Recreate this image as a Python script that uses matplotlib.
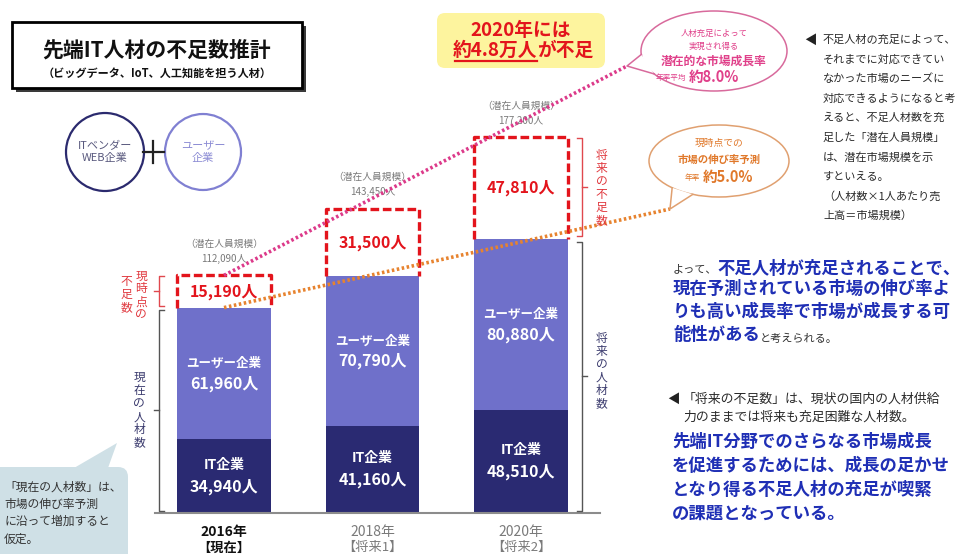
import numpy as np
import matplotlib.pyplot as plt
from matplotlib.patches import Rectangle, Circle, Ellipse, Polygon, FancyBboxPatch

plt.rcParams['font.family'] = ['Noto Sans CJK JP', 'DejaVu Sans']

# data: persons per segment
years = ["2016年", "2018年", "2020年"]
periods = ["【現在】", "【将来1】", "【将来2】"]
it_staff = [34940, 41160, 48510]
user_staff = [61960, 70790, 80880]
shortage = [15190, 31500, 47810]
potential = [112090, 143450, 177200]
rate_potential = "約8.0%"
rate_forecast = "約5.0%"

IT_C = '#2a2a72'
USER_C = '#6f70ca'
RED = '#e3141c'
PINK = '#dc3a8a'
ORANGE = '#e7832f'
BLUE = '#1f2fb5'
NAVY_TXT = '#3b3b6e'
GRAY_TXT = '#7a7a7a'

W, H = 962, 554
BASE = 513          # baseline in px from top
YTOP = 242000
X0, XW = 130, 490
XLIM = (-0.633, 2.667)

fig = plt.figure(figsize=(W / 100, H / 100), dpi=100)
ax = fig.add_axes([X0 / W, (H - BASE) / H, XW / W, BASE / H])
ax.set_xlim(*XLIM)
ax.set_ylim(0, YTOP)
ax.axis('off')

# overlay in pixel coords for the infographic parts
ov = fig.add_axes([0, 0, 1, 1], zorder=5)
ov.set_xlim(0, W)
ov.set_ylim(H, 0)
ov.axis('off')


def to_px(xd, yd):
    return (X0 + (xd - XLIM[0]) / (XLIM[1] - XLIM[0]) * XW,
            BASE - yd / YTOP * BASE)


def to_data(px, py):
    return (XLIM[0] + (px - X0) / XW * (XLIM[1] - XLIM[0]),
            (BASE - py) / BASE * YTOP)


# ---- bars ----
x = np.arange(len(years))
bw = 0.63
it = np.array(it_staff)
us = np.array(user_staff)
sh = np.array(shortage)
pot = np.array(potential)
cur = it + us

ax.bar(x, it, bw, color=IT_C, zorder=2)
ax.bar(x, us, bw, bottom=it, color=USER_C, zorder=2)
for i in x:
    xs = [i - bw / 2, i - bw / 2, i + bw / 2, i + bw / 2]
    ys = [cur[i], cur[i] + sh[i], cur[i] + sh[i], cur[i]]
    ax.plot(xs, ys, color=RED, lw=2.4, ls=(0, (2.6, 1.1)), zorder=4)

ax.axhline(0, xmin=0.05, xmax=0.96, color='#8c8c8c', lw=1.5, clip_on=False, zorder=3)

for i in x:
    ax.annotate("IT企業", (i, it[i] / 2), xytext=(0, 8), textcoords='offset points',
                ha='center', va='center', color='white', fontsize=10, fontweight='bold')
    ax.annotate(f"{it[i]:,}人", (i, it[i] / 2), xytext=(0, -7.5), textcoords='offset points',
                ha='center', va='center', color='white', fontsize=11.5, fontweight='bold')
    ax.annotate("ユーザー企業", (i, it[i] + us[i] / 2), xytext=(0, 7), textcoords='offset points',
                ha='center', va='center', color='white', fontsize=9, fontweight='bold')
    ax.annotate(f"{us[i]:,}人", (i, it[i] + us[i] / 2), xytext=(0, -7.5), textcoords='offset points',
                ha='center', va='center', color='white', fontsize=11.5, fontweight='bold')
    ax.text(i, cur[i] + sh[i] / 2, f"{sh[i]:,}人", ha='center', va='center',
            color=RED, fontsize=11.5, fontweight='bold', zorder=5)
    ax.annotate("（潜在人員規模）", (i, pot[i]), xytext=(0, 23), textcoords='offset points',
                ha='center', va='center', color=GRAY_TXT, fontsize=7)
    ax.annotate(f"{pot[i]:,}人", (i, pot[i]), xytext=(0, 12), textcoords='offset points',
                ha='center', va='center', color=GRAY_TXT, fontsize=7)
    first = i == 0
    ax.annotate(years[i], (i, 0), xytext=(0, -13.5), textcoords='offset points',
                ha='center', va='center', fontsize=10,
                color='#111111' if first else GRAY_TXT,
                fontweight='bold' if first else 'normal', annotation_clip=False)
    ax.annotate(periods[i], (i, 0), xytext=(0, -25), textcoords='offset points',
                ha='center', va='center', fontsize=9.5,
                color='#111111' if first else GRAY_TXT,
                fontweight='bold' if first else 'normal', annotation_clip=False)

# growth-rate dotted lines
ex, ey = to_data(627, 66)
ax.plot([0, ex], [pot[0], ey], color=PINK, lw=2.6, ls=(0, (0.7, 0.7)),
        clip_on=False, zorder=6)
ex, ey = to_data(670, 209)
ax.plot([0, ex], [cur[0], ey], color=ORANGE, lw=2.6, ls=(0, (0.7, 0.7)),
        clip_on=False, zorder=6)


# ---- brackets ----
def bracket(xp, y0, y1, hook, color):
    ov.plot([xp + hook, xp, xp, xp + hook], [y0, y0, y1, y1], color=color, lw=1.0)
    ym = (y0 + y1) / 2
    ov.plot([xp, xp - hook], [ym, ym], color=color, lw=1.0)


def vtext(xp, yc, s, color, size=8.5):
    ov.text(xp, yc, "\n".join(s), ha='center', va='center', color=color,
            fontsize=size, linespacing=1.0)


lx = to_px(0 - bw / 2, 0)[0] - 18
rx = to_px(2 + bw / 2, 0)[0] + 14
_, yp0 = to_px(0, pot[0])
_, yc0 = to_px(0, cur[0])
_, yp2 = to_px(2, pot[2])
_, yc2 = to_px(2, cur[2])

bracket(lx, yp0 + 1, yc0 - 2, 5, '#e0484e')
bracket(lx, yc0 + 2, BASE - 2, 5, '#555555')
bracket(rx, yp2 + 1, yc2 - 3, -5, '#e0484e')
bracket(rx, yc2 + 3, BASE - 2, -5, '#555555')

vtext(lx - 18, (yp0 + yc0) / 2 + 4, "現時点の", '#e0383e', 8.5)
vtext(lx - 33, (yp0 + yc0) / 2 + 3, "不足数", '#e0383e', 8.5)
vtext(lx - 20, (yc0 + BASE) / 2, "現在の人材数", NAVY_TXT, 8.5)
vtext(rx + 20, (yp2 + yc2) / 2, "将来の不足数", '#e0383e', 8.5)
vtext(rx + 20, (yc2 + BASE) / 2 - 5, "将来の人材数", NAVY_TXT, 8.5)

# ---- title box ----
ov.add_patch(Rectangle((16, 26), 290, 66, fc='#3a3a3a', ec='none'))
ov.add_patch(Rectangle((12, 22), 290, 66, fc='white', ec='black', lw=2))
ov.text(157, 50, "先端IT人材の不足数推計", ha='center', va='center',
        fontsize=15, fontweight='bold', color='#111111')
ov.text(157, 73, "（ビッグデータ、IoT、人工知能を担う人材）", ha='center', va='center',
        fontsize=8, fontweight='bold', color='#111111')

# circles
ov.add_patch(Circle((105, 152), 39, fc='white', ec='#2b2a6e', lw=1.6))
ov.add_patch(Circle((203, 152), 38, fc='white', ec='#8080d2', lw=1.6))
ov.text(105, 152, "ITベンダー\nWEB企業", ha='center', va='center', fontsize=8,
        color='#5a5a7e', linespacing=1.3)
ov.text(203, 152, "ユーザー\n企業", ha='center', va='center', fontsize=8,
        color='#8c8cd4', linespacing=1.3)
ov.plot([143, 164], [152, 152], color='#222222', lw=1.6)
ov.plot([153.5, 153.5], [141, 163], color='#222222', lw=1.6)

# yellow headline
ov.add_patch(FancyBboxPatch((437, 13), 168, 55, boxstyle='round,pad=0,rounding_size=8',
                            fc='#fdf49e', ec='none'))
ov.text(521, 31, "2020年には", ha='center', va='center', fontsize=13.5,
        fontweight='bold', color=RED)
ov.text(537, 50, "約4.8万人", ha='right', va='center', fontsize=13.5,
        fontweight='bold', color=RED)
ov.text(537, 50, "が不足", ha='left', va='center', fontsize=13.5,
        fontweight='bold', color=RED)
ov.plot([455, 537], [61, 61], color=RED, lw=1.6)


# speech bubbles
def bubble(cx, cy, w, h, angles, tip, color):
    ov.add_patch(Ellipse((cx, cy), w, h, fc='white', ec=color, lw=1.1, zorder=2))
    pts = [(cx + w / 2 * np.cos(np.radians(a)), cy + h / 2 * np.sin(np.radians(a)))
           for a in angles]
    ov.add_patch(Polygon([pts[0], tip, pts[1]], closed=True, fc='white', ec='none', zorder=3))
    ov.plot([pts[0][0], tip[0], pts[1][0]], [pts[0][1], tip[1], pts[1][1]],
            color=color, lw=1.1, zorder=4)


bubble(714, 51, 146, 80, (175, 145), (627, 66), '#d86a9c')
ov.text(714, 33, "人材充足によって", ha='center', va='center', fontsize=6, color='#e0408a', zorder=5)
ov.text(714, 46, "実現され得る", ha='center', va='center', fontsize=6, color='#e0408a', zorder=5)
ov.text(714, 61, "潜在的な市場成長率", ha='center', va='center', fontsize=8.5,
        fontweight='bold', color='#e0408a', zorder=5)
ov.text(686, 78, "年率平均", ha='right', va='center', fontsize=5.5, color='#e0408a', zorder=5)
ov.text(689, 77, rate_potential, ha='left', va='center', fontsize=10.5,
        fontweight='bold', color='#e0408a', zorder=5)

bubble(719, 161, 140, 72, (112, 132), (670, 209), '#e0a070')
ov.text(719, 143, "現時点での", ha='center', va='center', fontsize=7, color='#e0782a', zorder=5)
ov.text(719, 160, "市場の伸び率予測", ha='center', va='center', fontsize=7.5,
        fontweight='bold', color='#e0782a', zorder=5)
ov.text(700, 178, "年率", ha='right', va='center', fontsize=5.5, color='#e0782a', zorder=5)
ov.text(703, 177, rate_forecast, ha='left', va='center', fontsize=10.5,
        fontweight='bold', color='#e0782a', zorder=5)

# ---- right-hand notes ----
note1 = ["不足人材の充足によって、", "それまでに対応できてい", "なかった市場のニーズに",
         "対応できるようになると考", "えると、不足人材数を充", "足した「潜在人員規模」",
         "は、潜在市場規模を示", "すといえる。", "（人材数×1人あたり売",
         "上高＝市場規模）"]
ov.text(810, 40, "◀", ha='center', va='center', fontsize=9, color='#222222')
for k, s in enumerate(note1):
    ov.text(823, 40 + k * 19.5, s, ha='left', va='center', fontsize=8, color='#2a2a2a')

t1 = ov.text(673, 272, "よって、", ha='left', va='baseline', fontsize=8, color='#333333')
ov.annotate("不足人材が充足されることで、", xy=(1, 0), xycoords=t1, ha='left', va='baseline',
            fontsize=12.5, fontweight='bold', color=BLUE)
ov.text(673, 294, "現在予測されている市場の伸び率よ", ha='left', va='baseline',
        fontsize=12.5, fontweight='bold', color=BLUE)
ov.text(673, 317, "りも高い成長率で市場が成長する可", ha='left', va='baseline',
        fontsize=12.5, fontweight='bold', color=BLUE)
t4 = ov.text(673, 340, "能性がある", ha='left', va='baseline',
             fontsize=12.5, fontweight='bold', color=BLUE)
ov.annotate("と考えられる。", xy=(1, 0), xycoords=t4, ha='left', va='bottom',
            fontsize=8, color='#333333')

ov.text(673, 399, "◀", ha='center', va='center', fontsize=9, color='#222222')
ov.text(683, 399, "「将来の不足数」は、現状の国内の人材供給", ha='left', va='center',
        fontsize=9.3, color='#2a2a2a')
ov.text(683, 417, "力のままでは将来も充足困難な人材数。", ha='left', va='center',
        fontsize=9.3, color='#2a2a2a')
note3 = ["先端IT分野でのさらなる市場成長", "を促進するためには、成長の足かせ",
         "となり得る不足人材の充足が喫緊", "の課題となっている。"]
for k, s in enumerate(note3):
    ov.text(672, 442 + k * 24, s, ha='left', va='center', fontsize=12.5,
            fontweight='bold', color=BLUE)

# bottom-left callout
ov.add_patch(FancyBboxPatch((-10, 467), 138, 100, boxstyle='round,pad=0,rounding_size=10',
                            fc='#cfe0e6', ec='none'))
ov.add_patch(Polygon([(74, 468), (108, 468), (117, 443)], closed=True, fc='#cfe0e6', ec='none'))
for k, s in enumerate(["「現在の人材数」は、", "市場の伸び率予測", "に沿って増加すると", "仮定。"]):
    ov.text(4, 487 + k * 17.3, s, ha='left', va='center', fontsize=8.5, color='#333333')

fig.savefig("out.png", dpi=100)
